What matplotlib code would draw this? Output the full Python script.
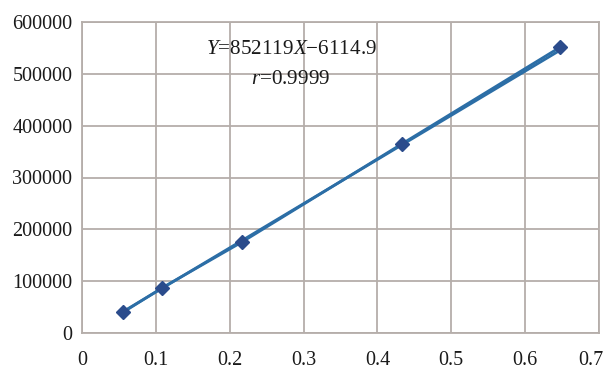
import matplotlib
matplotlib.use("Agg")
import matplotlib.pyplot as plt
import matplotlib.transforms as mtrans
import numpy as np

x_vals = [0.0555, 0.1088, 0.216, 0.4328, 0.647]
y_vals = [39900, 87400, 175000, 364600, 551100]
slope = 852119
intercept = -6114.9
x_ticks = [0, 0.1, 0.2, 0.3, 0.4, 0.5, 0.6, 0.7]
x_tick_labels = ["0", "0.1", "0.2", "0.3", "0.4", "0.5", "0.6", "0.7"]
y_ticks = [0, 100000, 200000, 300000, 400000, 500000, 600000]
y_tick_labels = ["0", "100000", "200000", "300000", "400000", "500000", "600000"]

plt.rcParams['font.family'] = ['Liberation Serif', 'DejaVu Serif']
plt.rcParams['mathtext.fontset'] = 'custom'
plt.rcParams['mathtext.rm'] = 'Liberation Serif'
plt.rcParams['mathtext.it'] = 'Liberation Serif:italic'

fig = plt.figure(figsize=(6.08, 3.69), dpi=100)
ax = fig.add_axes([82/608, 1-333/369, 517/608, 311/369])

grid_c = '#b5aeaa'
ax.set_xlim(0, 0.7)
ax.set_ylim(0, 600000)
ax.set_xticks(x_ticks)
ax.set_xticklabels(x_tick_labels)
ax.set_yticks(y_ticks)
ax.set_yticklabels(y_tick_labels)
ax.tick_params(length=0, labelsize=14.5, colors='#1a1a1a')
ax.tick_params(axis='x', pad=13)
ax.tick_params(axis='y', pad=7)
ax.grid(True, color=grid_c, linewidth=1.3)
ax.set_axisbelow(True)
for s in ax.spines.values():
    s.set_color(grid_c)
    s.set_linewidth(1.3)

# shift last x label left so it fits, as in the reference
last = ax.get_xticklabels()[-1]
last.set_transform(last.get_transform() + mtrans.ScaledTranslation(-8/100, 0, fig.dpi_scale_trans))

line_c = '#2c6ea6'
fx = np.array([x_vals[0], x_vals[-1]])
ax.plot(fx, slope * fx + intercept, color=line_c, linewidth=2.0, zorder=3)
ax.plot(x_vals, y_vals, color=line_c, linewidth=2.0, marker='D', markersize=7,
        markerfacecolor='#2b4c8c', markeredgecolor='#2b4c8c', zorder=4)

ax.text(0.283, 546000, r'$Y$=852119$X$−6114.9', fontsize=15.2, ha='center', va='center', color='#1a1a1a')
ax.text(0.283, 490000, r'$r$=0.9999', fontsize=15.2, ha='center', va='center', color='#1a1a1a')

fig.savefig('out.png', dpi=100)
